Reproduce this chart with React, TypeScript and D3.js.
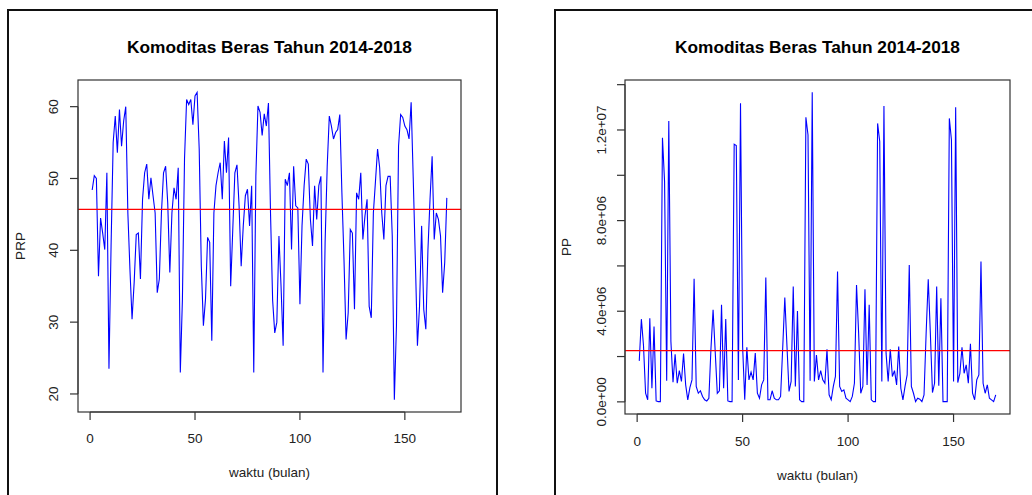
import { useEffect, useRef } from 'react';
import * as d3 from 'd3';

// PRP per bulan (1..170)
const prpValues = [
  48.4, 50.4, 50.0, 36.4, 44.5, 42.4, 40.1, 50.8, 23.5, 40.6,
  55.0, 58.7, 53.6, 59.6, 54.5, 58.0, 60.0, 45.2, 37.3, 30.4,
  35.5, 42.2, 42.4, 36.0, 47.1, 50.8, 52.0, 47.1, 50.1, 47.6,
  45.2, 34.1, 36.0, 45.2, 50.8, 51.7, 46.6, 36.9, 45.2, 48.7,
  47.1, 51.5, 23.0, 33.2, 52.7, 61.0, 60.3, 61.0, 57.5, 61.5,
  62.0, 54.1, 37.8, 29.5, 33.2, 41.8, 41.1, 27.4, 45.2, 49.0,
  50.8, 52.2, 47.1, 55.2, 50.8, 55.7, 35.0, 42.9, 50.8, 51.9,
  46.2, 37.8, 43.4, 47.6, 48.5, 43.4, 49.0, 23.0, 50.3, 60.1,
  59.2, 56.0, 59.0, 57.3, 60.5, 45.0, 33.0, 28.5, 30.0, 42.0,
  35.0, 26.7, 49.9, 49.0, 50.8, 40.1, 51.7, 46.2, 45.9, 32.5,
  43.4, 49.0, 52.7, 52.0, 44.3, 40.6, 49.0, 44.3, 49.0, 50.3,
  23.0, 41.1, 51.7, 58.7, 57.3, 55.5, 56.4, 56.8, 58.9, 48.0,
  38.7, 27.6, 31.3, 42.9, 42.4, 31.8, 48.0, 47.1, 50.8, 41.5,
  44.8, 47.1, 32.2, 30.6, 45.2, 49.6, 54.1, 51.5, 45.2, 41.5,
  49.0, 50.3, 50.3, 42.0, 19.2, 29.5, 54.5, 58.9, 58.5, 57.3,
  56.8, 55.5, 60.6, 50.0, 38.7, 26.7, 32.2, 43.4, 31.8, 29.0,
  40.0, 47.1, 53.1, 41.5, 45.2, 44.3, 42.0, 34.1, 38.3, 47.3,
];

// PP per bulan, dalam juta
const ppJuta = [
  1.81, 3.65, 2.5, 0.38, 0.09, 3.69, 0.6, 3.32, 0.04, 0.01,
  0.01, 11.66, 9.72, 0.93, 12.4, 2.66, 0.87, 2.1, 0.82, 1.38,
  0.9, 2.13, 0.75, 0.09, 0.63, 0.97, 5.43, 0.68, 0.38, 0.49,
  0.24, 0.09, 0.04, 0.16, 2.37, 4.06, 2.22, 0.38, 0.49, 4.28,
  0.6, 3.66, 0.04, 0.01, 0.01, 11.37, 11.31, 0.97, 13.18, 2.44,
  0.09, 2.41, 0.97, 1.31, 0.97, 2.15, 0.38, 0.16, 0.75, 0.97,
  5.49, 0.09, 0.09, 0.49, 0.16, 0.09, 0.09, 0.24, 2.37, 4.6,
  2.51, 0.46, 0.9, 5.09, 0.68, 4.01, 0.09, 0.01, 0.01, 12.56,
  11.78, 0.93, 13.66, 0.9, 2.07, 0.97, 1.38, 0.97, 0.82, 2.32,
  0.31, 0.09, 0.68, 1.12, 5.75, 0.68, 0.46, 0.53, 0.16, 0.09,
  0.01, 0.24, 0.82, 5.16, 3.03, 0.38, 0.68, 4.97, 0.75, 4.28,
  0.09, 0.01, 0.01, 12.29, 11.49, 0.9, 13.06, 2.15, 0.9, 2.32,
  1.12, 1.38, 0.75, 2.44, 0.6, 0.09, 0.68, 1.19, 6.04, 0.68,
  0.38, 0.01, 0.16, 0.12, 0.01, 0.31, 3.03, 5.41, 3.03, 0.41,
  0.82, 5.09, 0.71, 4.57, 0.01, 0.01, 0.01, 12.51, 11.56, 0.9,
  13.0, 0.85, 1.26, 2.41, 1.26, 1.63, 0.82, 2.56, 0.38, 0.09,
  0.97, 1.19, 6.19, 0.82, 0.38, 0.75, 0.16, 0.09, 0.01, 0.31,
];

const xTicks = [0, 50, 100, 150];
const prpTicks = [20, 30, 40, 50, 60];
const ppTicks = [0, 2e6, 4e6, 6e6, 8e6, 1e7, 1.2e7, 1.4e7];
const ppLabelTicks = [0, 4e6, 8e6, 1.2e7];

const meanPRP = 45.7;
const meanPP = 2.26e6;

const judul = 'Komoditas Beras Tahun 2014-2018';
const xLabel = 'waktu (bulan)';

const FONT = '"Liberation Sans", Arial, sans-serif';

// format ala R: 4.0e+06
const fmtSci = (v: number) => {
  const [m, e] = v.toExponential(1).split('e');
  const n = parseInt(e, 10);
  return `${m}e${n < 0 ? '-' : '+'}${String(Math.abs(n)).padStart(2, '0')}`;
};

// rentang ala R (diperlebar 4%)
const rExtent = (arr: number[]) => {
  const [lo, hi] = d3.extent(arr) as [number, number];
  const pad = (hi - lo) * 0.04;
  return [lo - pad, hi + pad];
};

const drawPanel = (svg: any, opt: any) => {
  const { frameX, left, right, top, bottom, values, yTicks, yLabelTicks, fmt, yLabel, mean, yLabelX, tickLabelX, xTickY, xLabelY } = opt;

  // bingkai panel
  svg.append('rect')
    .attr('x', frameX)
    .attr('y', 10)
    .attr('width', 489)
    .attr('height', 520)
    .attr('fill', 'none')
    .attr('stroke', '#111')
    .attr('stroke-width', 2);

  const idx = values.map((_: number, i: number) => i + 1);
  const x = d3.scaleLinear().domain(rExtent(idx)).range([left, right]);
  const y = d3.scaleLinear().domain(rExtent(values)).range([bottom, top]);

  const g = svg.append('g');

  // garis data
  const line = d3.line<number>()
    .x((_, i) => x(i + 1))
    .y(d => y(d));

  g.append('path')
    .datum(values)
    .attr('fill', 'none')
    .attr('stroke', '#0000ff')
    .attr('stroke-width', 1.1)
    .attr('d', line);

  // garis rata-rata
  g.append('line')
    .attr('x1', left)
    .attr('x2', right)
    .attr('y1', y(mean))
    .attr('y2', y(mean))
    .attr('stroke', '#ff0000')
    .attr('stroke-width', 1.2);

  // kotak plot
  g.append('rect')
    .attr('x', left)
    .attr('y', top)
    .attr('width', right - left)
    .attr('height', bottom - top)
    .attr('fill', 'none')
    .attr('stroke', '#333')
    .attr('stroke-width', 1.2);

  // sumbu x
  g.append('line')
    .attr('x1', x(xTicks[0])).attr('x2', x(xTicks[xTicks.length - 1]))
    .attr('y1', bottom).attr('y2', bottom)
    .attr('stroke', '#333');
  g.selectAll('.xt')
    .data(xTicks)
    .join('line')
    .attr('x1', (d: number) => x(d)).attr('x2', (d: number) => x(d))
    .attr('y1', bottom).attr('y2', bottom + 8)
    .attr('stroke', '#333')
    .attr('stroke-width', 1.2);
  g.selectAll('.xl')
    .data(xTicks)
    .join('text')
    .attr('x', (d: number) => x(d))
    .attr('y', xTickY)
    .attr('text-anchor', 'middle')
    .attr('font-family', FONT)
    .attr('font-size', 13.5)
    .attr('fill', '#222')
    .text((d: number) => d);

  // sumbu y
  g.append('line')
    .attr('x1', left).attr('x2', left)
    .attr('y1', y(yTicks[0])).attr('y2', y(yTicks[yTicks.length - 1]))
    .attr('stroke', '#333');
  g.selectAll('.yt')
    .data(yTicks)
    .join('line')
    .attr('x1', left - 8).attr('x2', left)
    .attr('y1', (d: number) => y(d)).attr('y2', (d: number) => y(d))
    .attr('stroke', '#333')
    .attr('stroke-width', 1.2);
  g.selectAll('.yl')
    .data(yLabelTicks)
    .join('text')
    .attr('transform', (d: number) => `translate(${tickLabelX},${y(d)}) rotate(-90)`)
    .attr('text-anchor', 'middle')
    .attr('font-family', FONT)
    .attr('font-size', 13.5)
    .attr('fill', '#222')
    .text((d: number) => fmt(d));

  // judul dan label
  svg.append('text')
    .attr('x', (left + right) / 2)
    .attr('y', 53)
    .attr('text-anchor', 'middle')
    .attr('font-family', FONT)
    .attr('font-size', 17.3)
    .attr('font-weight', 'bold')
    .attr('fill', '#000')
    .text(judul);

  svg.append('text')
    .attr('x', (left + right) / 2)
    .attr('y', xLabelY)
    .attr('text-anchor', 'middle')
    .attr('font-family', FONT)
    .attr('font-size', 13.5)
    .attr('fill', '#222')
    .text(xLabel);

  svg.append('text')
    .attr('transform', `translate(${yLabelX},${(top + bottom) / 2}) rotate(-90)`)
    .attr('text-anchor', 'middle')
    .attr('font-family', FONT)
    .attr('font-size', 13.5)
    .attr('fill', '#222')
    .text(yLabel);
};

const Charts = () => {
  const svgRef = useRef<SVGSVGElement>(null);

  useEffect(() => {
    const svg = d3.select(svgRef.current);
    svg.selectAll('*').remove();

    svg.append('rect')
      .attr('width', 1032)
      .attr('height', 495)
      .attr('fill', '#fff');

    drawPanel(svg, {
      frameX: 8,
      left: 78, right: 461, top: 80, bottom: 412,
      values: prpValues,
      yTicks: prpTicks,
      yLabelTicks: prpTicks,
      fmt: (d: number) => String(d),
      yLabel: 'PRP',
      mean: meanPRP,
      yLabelX: 25,
      tickLabelX: 58,
      xTickY: 443,
      xLabelY: 477,
    });

    drawPanel(svg, {
      frameX: 555,
      left: 625, right: 1010, top: 80, bottom: 414,
      values: ppJuta.map(v => v * 1e6),
      yTicks: ppTicks,
      yLabelTicks: ppLabelTicks,
      fmt: fmtSci,
      yLabel: 'PP',
      mean: meanPP,
      yLabelX: 571,
      tickLabelX: 606,
      xTickY: 446,
      xLabelY: 480,
    });
  }, []);

  return (
    <svg
      ref={svgRef}
      width={1032}
      height={495}
      style={{ position: 'absolute', left: 0, top: 0, display: 'block' }}
    />
  );
};

export default function App() {
  return <Charts />;
}
